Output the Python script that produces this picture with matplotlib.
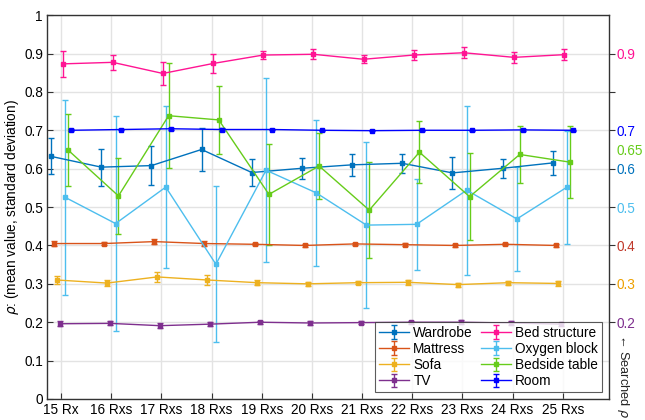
import matplotlib
matplotlib.use("Agg")
import matplotlib.pyplot as plt
import numpy as np

plt.rcParams['font.family'] = ['Liberation Sans', 'DejaVu Sans']
plt.rcParams['mathtext.fontset'] = 'dejavusans'

rx = [15, 16, 17, 18, 19, 20, 21, 22, 23, 24, 25]
xlabels = ["15 Rx", "16 Rxs", "17 Rxs", "18 Rxs", "19 Rxs", "20 Rxs",
           "21 Rxs", "22 Rxs", "23 Rxs", "24 Rxs", "25 Rxs"]

names = ["Wardrobe", "Mattress", "Sofa", "TV",
         "Bed structure", "Oxygen block", "Bedside table", "Room"]

wardrobe_m = [0.632, 0.604, 0.608, 0.650, 0.590, 0.601, 0.610, 0.614, 0.589, 0.601, 0.615]
wardrobe_s = [0.047, 0.048, 0.051, 0.056, 0.036, 0.027, 0.029, 0.024, 0.042, 0.024, 0.032]
mattress_m = [0.405, 0.405, 0.410, 0.405, 0.403, 0.400, 0.404, 0.402, 0.400, 0.403, 0.400]
mattress_s = [0.007, 0.004, 0.007, 0.006, 0.003, 0.003, 0.003, 0.004, 0.003, 0.003, 0.003]
sofa_m = [0.310, 0.302, 0.318, 0.310, 0.303, 0.300, 0.303, 0.304, 0.298, 0.303, 0.301]
sofa_s = [0.011, 0.007, 0.012, 0.012, 0.006, 0.005, 0.004, 0.006, 0.005, 0.005, 0.006]
tv_m = [0.196, 0.197, 0.191, 0.195, 0.200, 0.198, 0.199, 0.200, 0.200, 0.198, 0.195]
tv_s = [0.006, 0.005, 0.007, 0.005, 0.004, 0.004, 0.003, 0.004, 0.005, 0.004, 0.004]
bed_m = [0.873, 0.877, 0.848, 0.874, 0.896, 0.898, 0.885, 0.896, 0.902, 0.890, 0.897]
bed_s = [0.034, 0.020, 0.030, 0.026, 0.011, 0.013, 0.010, 0.014, 0.014, 0.014, 0.015]
oxy_m = [0.525, 0.457, 0.552, 0.351, 0.596, 0.537, 0.453, 0.455, 0.544, 0.469, 0.552]
oxy_s = [0.253, 0.280, 0.210, 0.203, 0.240, 0.190, 0.216, 0.118, 0.220, 0.136, 0.147]
bedside_m = [0.648, 0.529, 0.738, 0.727, 0.533, 0.607, 0.492, 0.643, 0.527, 0.637, 0.617]
bedside_s = [0.094, 0.100, 0.137, 0.088, 0.131, 0.085, 0.126, 0.080, 0.114, 0.075, 0.093]
room_m = [0.700, 0.702, 0.704, 0.702, 0.702, 0.700, 0.699, 0.700, 0.700, 0.701, 0.700]
room_s = [0.003, 0.002, 0.003, 0.003, 0.002, 0.002, 0.002, 0.002, 0.002, 0.002, 0.002]

means = [wardrobe_m, mattress_m, sofa_m, tv_m, bed_m, oxy_m, bedside_m, room_m]
stds = [wardrobe_s, mattress_s, sofa_s, tv_s, bed_s, oxy_s, bedside_s, room_s]
colors = ["#0072BD", "#D95319", "#EDB120", "#7E2F8E",
          "#FF1493", "#4DBEEE", "#66CC1A", "#0000FF"]

searched = [0.9, 0.7, 0.65, 0.6, 0.5, 0.4, 0.3, 0.2]
searched_labels = ["0.9", "0.7", "0.65", "0.6", "0.5", "0.4", "0.3", "0.2"]
searched_colors = ["#FF1493", "#0000FF", "#66CC1A", "#0072BD",
                   "#4DBEEE", "#C0392B", "#EDA000", "#7E2F8E"]

FS = 9.8

fig = plt.figure(figsize=(6.45, 4.2), dpi=100)
ax = fig.add_axes([0.073, 0.05, 0.871, 0.914])

offsets = np.linspace(-0.2, 0.2, len(names))
x = np.array(rx, dtype=float)
for i, name in enumerate(names):
    ax.errorbar(x + offsets[i], means[i], yerr=stds[i], color=colors[i],
                marker='s', markersize=3, linewidth=1.0, elinewidth=1.0,
                capsize=2.5, capthick=1.0, label=name)

ax.set_xlim(14.72, 25.92)
ax.set_ylim(0, 1)
ax.set_xticks(rx)
ax.set_xticklabels(xlabels, fontsize=FS)
ax.set_yticks(np.round(np.arange(0, 1.01, 0.1), 1))
ax.set_yticklabels(["0", "0.1", "0.2", "0.3", "0.4", "0.5", "0.6", "0.7", "0.8", "0.9", "1"],
                   fontsize=FS)
ax.grid(True, color="#E3E3E3", linewidth=1.0)
ax.set_axisbelow(True)
ax.tick_params(direction='in', length=4, color="#333333", pad=3)
for s in ax.spines.values():
    s.set_color("#333333")
    s.set_linewidth(1.0)
ax.set_ylabel(r"$\rho$: (mean value, standard deviation)", fontsize=FS, labelpad=2)

ax2 = ax.twinx()
ax2.set_ylim(0, 1)
rticks = [0.2, 0.3, 0.4, 0.5, 0.6, 0.65, 0.7, 0.8, 0.9]
ax2.set_yticks(rticks)
lab_map = dict(zip(searched, searched_labels))
col_map = dict(zip(searched, searched_colors))
ax2.set_yticklabels([lab_map.get(t, "") for t in rticks], fontsize=FS)
for t, lbl in zip(rticks, ax2.get_yticklabels()):
    if t in col_map:
        lbl.set_color(col_map[t])
ticks = ax2.yaxis.get_major_ticks()
for t, tk in zip(rticks, ticks):
    if t == 0.65:
        tk.tick1line.set_visible(False)
        tk.tick2line.set_visible(False)
ax2.tick_params(direction='out', length=4, color="#333333", pad=1.5)
for s in ax2.spines.values():
    s.set_visible(False)

fig.text(0.966, 0.105, "\u2190 Searched $\\rho$", rotation=270, fontsize=9.2,
         ha='center', va='center', color="#222222")

leg = ax.legend(ncol=2, loc='lower right', fontsize=FS, frameon=True,
                fancybox=False, edgecolor="#333333", borderpad=0.3,
                labelspacing=0.15, handlelength=2.2, handletextpad=0.3,
                columnspacing=0.6, bbox_to_anchor=(1.0, 0.0))
leg.get_frame().set_linewidth(0.8)

fig.savefig("out.png", dpi=100)
